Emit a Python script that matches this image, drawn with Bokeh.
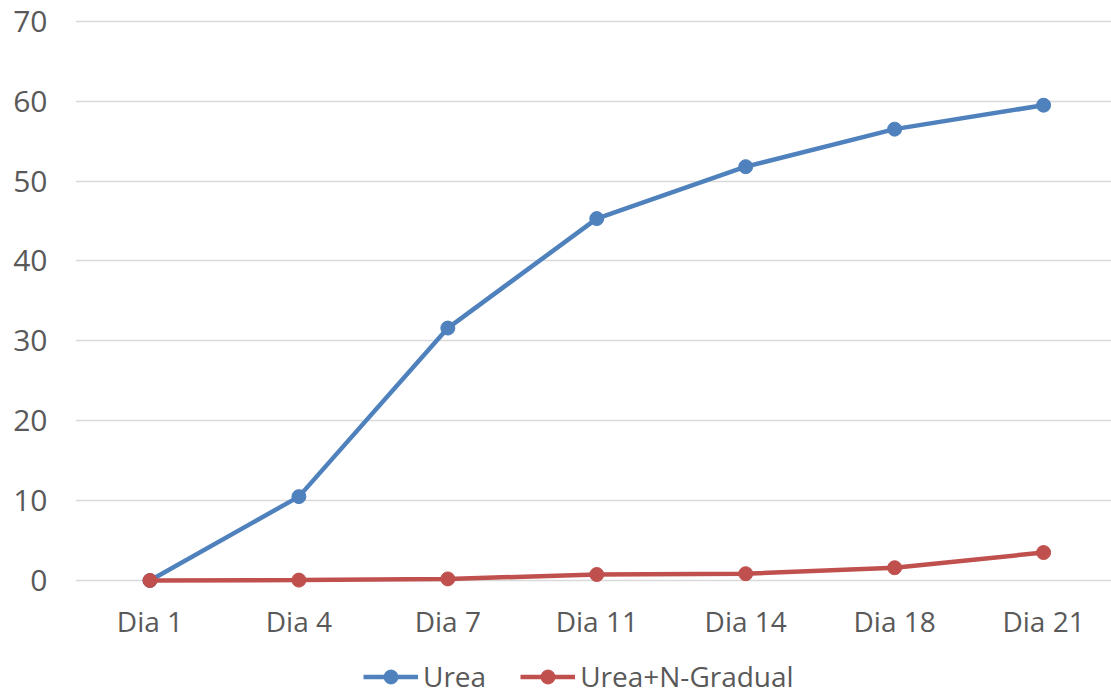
from bokeh.plotting import figure
from bokeh.models import Range1d, FixedTicker, Legend, LegendItem
from bokeh.core.properties import value
from bokeh.embed import file_html
from bokeh.resources import INLINE

# Sampling days and the two measured series
days = ["Dia 1", "Dia 4", "Dia 7", "Dia 11", "Dia 14", "Dia 18", "Dia 21"]
urea = [0.0, 10.5, 31.6, 45.3, 51.8, 56.5, 59.5]
urea_ngradual = [0.0, 0.05, 0.2, 0.75, 0.85, 1.6, 3.5]
y_ticks = [0, 10, 20, 30, 40, 50, 60, 70]

BLUE = "#4F81BD"
RED = "#C0504D"
TEXT = "#595959"
GRID = "#D9D9D9"

xpos = list(range(len(days)))

# The plotting area runs down to the bottom edge so the category labels
# and the legend can sit beneath the zero line.
p = figure(
    frame_width=1036, frame_height=680,
    x_range=Range1d(-0.5, 6.456), y_range=Range1d(-14.77, 70.35),
    output_backend="svg", toolbar_location=None,
    min_border_left=75, min_border_top=18, min_border_right=0,
    min_border_bottom=0,
)
p.outline_line_color = None
p.background_fill_color = "white"
p.border_fill_color = "white"

# y axis: numeric ticks, no line
p.yaxis.ticker = FixedTicker(ticks=y_ticks)
p.yaxis.axis_line_color = None
p.yaxis.major_tick_line_color = None
p.yaxis.minor_tick_line_color = None
p.yaxis.major_label_standoff = 22
p.yaxis.major_label_text_font = "Open Sans"
p.yaxis.major_label_text_font_size = "30px"
p.yaxis.major_label_text_color = TEXT

p.xaxis.visible = False
p.xgrid.grid_line_color = None
p.ygrid.ticker = FixedTicker(ticks=y_ticks)
p.ygrid.grid_line_color = GRID
p.ygrid.grid_line_width = 1.5

# category labels under the zero line
p.text(x=xpos, y=[-5.1] * len(days), text=days,
       text_font=value("Open Sans"), text_font_size="28px",
       text_color=TEXT, text_align="center", text_baseline="middle")

l1 = p.line(xpos, urea, line_color=BLUE, line_width=4.5)
s1 = p.scatter(xpos, urea, size=14, fill_color=BLUE, line_color=BLUE)
l2 = p.line(xpos, urea_ngradual, line_color=RED, line_width=4.5)
s2 = p.scatter(xpos, urea_ngradual, size=14, fill_color=RED, line_color=RED)

legend = Legend(
    items=[
        LegendItem(label="Urea", renderers=[l1, s1]),
        LegendItem(label="Urea+N-Gradual", renderers=[l2, s2]),
    ],
    orientation="horizontal",
    location=(288, 3),
    padding=0, margin=0, spacing=34,
    glyph_width=55, glyph_height=35, label_standoff=5,
    label_text_font="Open Sans", label_text_font_size="28px",
    label_text_color=TEXT,
    border_line_color=None, background_fill_alpha=0,
)
p.add_layout(legend, "center")

open("out.html", "w").write(file_html(p, INLINE))
